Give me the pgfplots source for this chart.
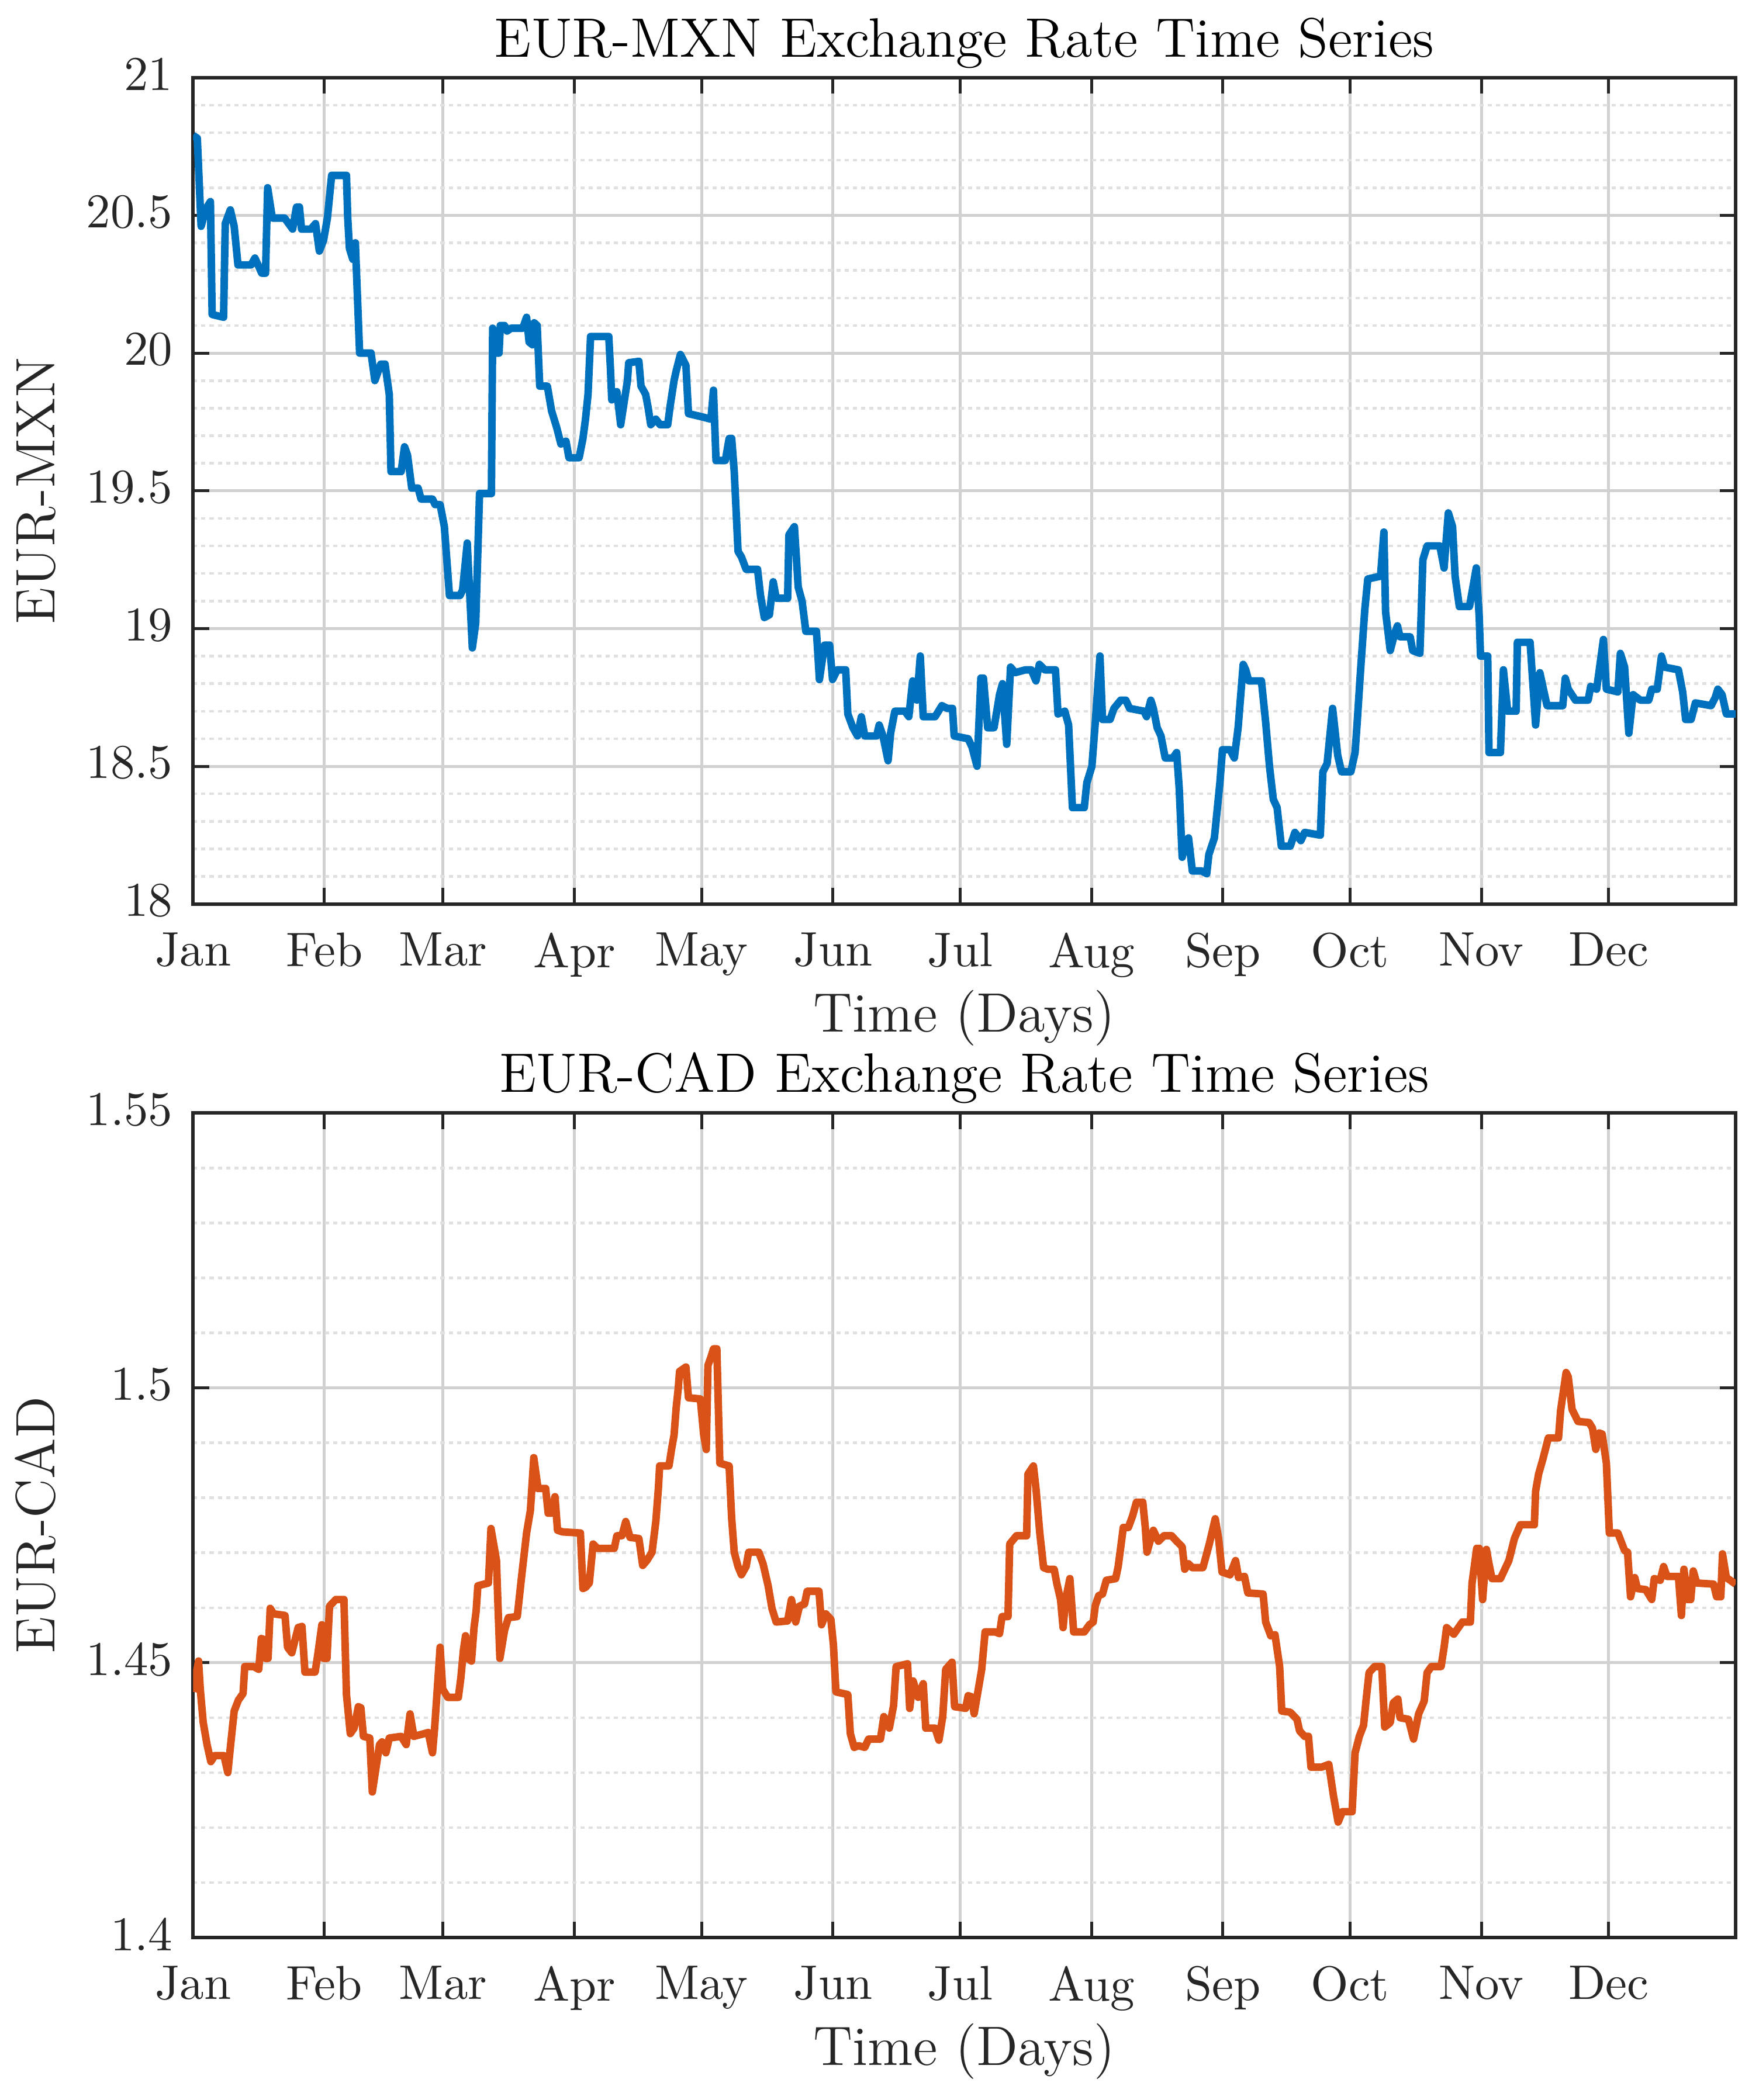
\documentclass[border=0pt]{standalone}
\usepackage{pgfplots}
\pgfplotsset{compat=1.18}
\definecolor{mblue}{RGB}{0,114,189}
\definecolor{morange}{RGB}{217,83,25}
\definecolor{axgray}{RGB}{38,38,38}
\pgfplotsset{
 every axis title shift=0pt,
 mystyle/.style={
  scale only axis, width=318pt,
  xmin=1, xmax=365, enlargelimits=false,
  xtick={1,32,60,91,121,152,182,213,244,274,305,335},
  xticklabels={Jan,Feb,Mar,Apr,May,Jun,Jul,Aug,Sep,Oct,Nov,Dec},
  tick align=inside, tick pos=both,
  major tick length=3.3pt, minor tick length=0pt,
  xmajorgrids, ymajorgrids, yminorgrids,
  major grid style={color=black!18, line width=0.6pt},
  minor grid style={color=black!12, line width=0.55pt, dash pattern=on 0.85pt off 0.85pt},
  axis line style={color=axgray, line width=0.7pt},
  tick style={color=axgray, line width=0.6pt},
  tick label style={font=\fontsize{10}{12}\selectfont, text=axgray},
  xticklabel style={yshift=-2.4pt},
  yticklabel style={xshift=-0.7pt, yshift=0.7pt},
  title style={at={(axis description cs:0.5,1.0252)}, anchor=base, font=\fontsize{11.45}{13.5}\selectfont},
  xlabel style={at={(axis description cs:0.5,-0.1547)}, anchor=base, font=\fontsize{11.45}{13.5}\selectfont, text=axgray},
  ylabel style={at={(axis description cs:-0.0896,0.5)}, anchor=base, rotate=0, font=\fontsize{11.45}{13.5}\selectfont, text=axgray},
  xlabel={Time (Days)},
 }
}
\begin{document}
\begin{tikzpicture}
\begin{axis}[mystyle, at={(0pt,0pt)}, anchor=north west, height=170.4pt,
  ymin=18, ymax=21, ytick={18,18.5,19,19.5,20,20.5,21},
  yticklabels={18,18.5,19,19.5,20,20.5,21}, minor y tick num=4,
  title={EUR-MXN Exchange Rate Time Series}, ylabel={EUR-MXN}]
\addplot[color=mblue, line width=1.55pt, line join=round] coordinates {
(1,20.79) (2,20.78) (2.9,20.46) (3.6,20.50) (4.3,20.53) (5.1,20.55) (5.5,20.14) (8.2,20.13)
(8.6,20.47) (9.8,20.52) (10.7,20.46) (11.6,20.32) (14.7,20.32) (15.6,20.345) (17.2,20.29) (18.1,20.29)
(18.6,20.60) (19.7,20.49) (22.6,20.49) (24.5,20.45) (25.4,20.53) (26.1,20.53) (26.6,20.45) (28.8,20.45)
(29.9,20.47) (30.8,20.37) (31.8,20.41) (32.7,20.49) (33.7,20.645) (37.2,20.645) (37.5,20.49) (37.9,20.38)
(38.7,20.34) (39.3,20.40) (40.3,20.00) (43,20.00) (43.9,19.90) (45.3,19.96) (46.3,19.96) (47.3,19.85)
(47.7,19.57) (50.1,19.57) (50.9,19.66) (51.6,19.63) (52.6,19.51) (54.1,19.51) (54.8,19.47) (57.5,19.47)
(58.1,19.45) (59.3,19.45) (60.3,19.37) (61.5,19.12) (64,19.12) (64.6,19.14) (65.7,19.31) (66.3,19.12)
(66.9,18.93) (67.7,19.02) (68.6,19.49) (71.4,19.49) (71.7,20.09) (72.3,20.00) (73.2,20.00) (73.5,20.10)
(74.5,20.10) (75.1,20.08) (76,20.09) (78.8,20.09) (79.7,20.13) (80.3,20.04) (81.1,20.03) (81.5,20.11)
(82.2,20.10) (82.8,19.88) (84.6,19.88) (85.6,19.79) (86.8,19.73) (87.8,19.67) (89,19.68) (89.7,19.62)
(92.1,19.62) (93,19.69) (93.6,19.76) (94.2,19.85) (94.8,20.06) (99.1,20.06) (99.5,19.94) (99.8,19.83)
(101,19.86) (101.9,19.74) (102.8,19.83) (103.5,19.90) (103.8,19.965) (106.2,19.97) (106.7,19.88) (107.8,19.85)
(108.4,19.80) (109,19.74) (110.2,19.76) (111.2,19.74) (113,19.74) (113.6,19.81) (114.5,19.90) (115,19.935)
(116,19.995) (117.3,19.955) (117.9,19.78) (120.7,19.77) (123.2,19.76) (123.8,19.865) (124.4,19.61) (126.6,19.61)
(127.5,19.69) (128.1,19.69) (128.7,19.57) (129.6,19.28) (130.4,19.26) (131.5,19.215) (134.2,19.215) (134.9,19.12)
(135.8,19.04) (137,19.05) (137.9,19.17) (138.6,19.11) (141.3,19.11) (141.6,19.34) (142.9,19.37) (143.8,19.15)
(144.7,19.10) (145.6,18.99) (148.1,18.99) (148.8,18.815) (150,18.94) (151.2,18.94) (151.9,18.815) (153,18.85)
(155,18.85) (155.5,18.69) (156.7,18.64) (157.8,18.61) (158.7,18.68) (159.5,18.61) (162.3,18.61) (162.9,18.65)
(163.8,18.61) (165,18.52) (165.6,18.62) (166.6,18.70) (169,18.70) (169.9,18.68) (170.8,18.81) (171.8,18.74)
(172.6,18.90) (173.3,18.68) (176.1,18.68) (177.7,18.72) (179,18.71) (180.2,18.71) (180.6,18.61) (183.9,18.60)
(184.8,18.57) (186,18.50) (186.9,18.82) (187.5,18.82) (188.5,18.64) (190,18.64) (191.3,18.76) (192,18.80)
(193,18.58) (193.9,18.86) (195,18.84) (197.4,18.85) (198.8,18.85) (199.9,18.81) (200.7,18.87) (202,18.85)
(204.5,18.85) (205.1,18.69) (206.7,18.70) (207.6,18.65) (208.5,18.35) (211.3,18.35) (211.9,18.44) (213.1,18.50)
(213.9,18.66) (215,18.90) (215.6,18.67) (217.4,18.67) (218.3,18.71) (219.9,18.74) (221.1,18.74) (222,18.71)
(225.4,18.70) (226,18.68) (227,18.74) (227.6,18.71) (228.5,18.64) (229.4,18.61) (230.4,18.53) (232.2,18.53)
(233.1,18.55) (233.7,18.42) (234.4,18.17) (235.3,18.23) (235.9,18.24) (236.8,18.12) (239,18.12) (240.2,18.11)
(240.7,18.18) (242,18.24) (243.3,18.44) (243.9,18.56) (245.7,18.56) (246.7,18.53) (247.6,18.64) (248.8,18.87)
(249.4,18.85) (250.1,18.81) (253.1,18.81) (254.1,18.66) (255,18.50) (255.9,18.38) (256.8,18.35) (257.8,18.21)
(259.9,18.21) (261,18.26) (262.4,18.23) (263.3,18.26) (267,18.25) (267.6,18.48) (268.6,18.51) (269.9,18.71)
(271.1,18.54) (272,18.48) (274.2,18.48) (275.2,18.55) (275.7,18.66) (276.5,18.85) (277.5,19.07) (278.2,19.18)
(281.2,19.19) (282,19.35) (282.4,19.06) (283.5,18.92) (284.5,18.98) (285.2,19.01) (285.8,18.97) (288.2,18.97)
(288.8,18.92) (290.5,18.91) (291.2,19.25) (292.2,19.30) (295.2,19.30) (296.2,19.22) (297.2,19.42) (298.2,19.37)
(298.8,19.19) (299.8,19.08) (302.2,19.08) (303.8,19.22) (304.5,19.04) (304.8,18.90) (306.5,18.90) (306.8,18.55)
(309.5,18.55) (310.2,18.85) (311.2,18.70) (313.2,18.70) (313.5,18.95) (316.5,18.95) (317.8,18.65) (318.8,18.84)
(319.5,18.79) (320.5,18.72) (324.2,18.72) (324.8,18.82) (325.5,18.78) (327.2,18.74) (330.2,18.74) (330.8,18.79)
(332.2,18.78) (333.8,18.96) (334.5,18.78) (337.2,18.77) (337.8,18.91) (338.8,18.86) (339.8,18.62) (340.8,18.76)
(342.5,18.74) (344.5,18.74) (345.2,18.78) (346.5,18.78) (347.5,18.90) (348.2,18.86) (351.5,18.85) (352.5,18.77)
(353.2,18.67) (354.5,18.67) (355.5,18.73) (359.2,18.72) (360.2,18.75) (360.8,18.78) (361.8,18.76) (362.8,18.69)
(365,18.69)
};
\end{axis}
\begin{axis}[mystyle, at={(0pt,-213.5pt)}, anchor=north west, height=170pt,
  ymin=1.4, ymax=1.55, ytick={1.4,1.45,1.5,1.55},
  yticklabels={1.4,1.45,1.5,1.55}, minor y tick num=4,
  title={EUR-CAD Exchange Rate Time Series}, ylabel={EUR-CAD}]
\addplot[color=morange, line width=1.55pt, line join=round] coordinates {
(1,1.4447) (2.3,1.4503) (2.7,1.4452) (3.4,1.4391) (4.3,1.4351) (5.2,1.4320) (6.1,1.4331) (8.3,1.4331)
(9.2,1.4300) (9.8,1.4346) (10.7,1.4412) (11.7,1.4432) (12.8,1.4444) (13.2,1.4493) (15.3,1.4493) (16.5,1.4488)
(17.1,1.4544) (17.8,1.4542) (18.1,1.4508) (18.7,1.4508) (19.2,1.4599) (20,1.4589) (22.7,1.4586) (23.3,1.4528)
(24.3,1.4518) (25.8,1.4564) (26.7,1.4566) (27.4,1.4483) (29.8,1.4483) (30.4,1.4513) (31.4,1.4569) (31.8,1.4508)
(32.6,1.4508) (33.2,1.4603) (34.7,1.4615) (36.6,1.4615) (37.2,1.4442) (38.1,1.4371) (39,1.4381) (40,1.4420)
(40.6,1.4418) (41.2,1.4366) (42.7,1.4363) (43.3,1.4265) (45,1.4351) (45.6,1.4356) (46.5,1.4336) (47.3,1.4363)
(50.1,1.4366) (51.3,1.4351) (52.2,1.4407) (53.1,1.4366) (56.5,1.4373) (57.5,1.4336) (58,1.4381) (59.3,1.4528)
(59.9,1.4452) (61.1,1.4437) (63.6,1.4437) (64.2,1.4473) (64.8,1.4523) (65.3,1.4549) (65.8,1.4508) (66.7,1.4503)
(67.3,1.4564) (67.8,1.4594) (68.2,1.4640) (70.7,1.4645) (71.3,1.4744) (72.6,1.4686) (72.9,1.4615) (73.4,1.4508)
(74.5,1.4559) (75.4,1.4582) (77.5,1.4584) (78.5,1.4655) (79.7,1.4736) (80.6,1.4777) (81.4,1.4873) (82.4,1.4817)
(84.2,1.4817) (84.8,1.4772) (85.6,1.4772) (86.4,1.4802) (87,1.4741) (88.2,1.4738) (92.4,1.4736) (93,1.4635)
(93.6,1.4637) (94.5,1.4645) (95.4,1.4716) (96.4,1.4708) (100.4,1.4708) (101,1.4731) (102.2,1.4731) (103.1,1.4757)
(104.1,1.4728) (106.2,1.4726) (107.1,1.4677) (108.1,1.4686) (109.3,1.4701) (110.2,1.4757) (110.8,1.4817) (111.1,1.4858)
(113.3,1.4858) (113.9,1.4888) (114.5,1.4914) (115,1.4964) (115.5,1.5000) (115.8,1.5030) (117.3,1.5038) (117.9,1.4982)
(120.7,1.4980) (121.5,1.4914) (122.1,1.4888) (122.5,1.5041) (123.2,1.5056) (123.8,1.5071) (124.6,1.5071) (125.3,1.4863)
(127.5,1.4858) (128.1,1.4762) (128.7,1.4701) (129.6,1.4675) (130.4,1.4660) (131.5,1.4675) (132.1,1.4701) (134.5,1.4701)
(135.5,1.4680) (136.7,1.4640) (137.6,1.4599) (138.6,1.4574) (141.3,1.4576) (142.2,1.4615) (143.2,1.4574) (144.1,1.4603)
(145.3,1.4607) (145.9,1.4630) (148.7,1.4630) (149.3,1.4569) (150.3,1.4589) (151.5,1.4579) (152.1,1.4533) (152.7,1.4447)
(155.5,1.4442) (156.1,1.4371) (157,1.4346) (158,1.4349) (159.5,1.4346) (160.4,1.4361) (163.2,1.4361) (164,1.4402)
(165.3,1.4381) (166.3,1.4422) (166.9,1.4493) (169.6,1.4498) (170.1,1.4417) (170.9,1.4467) (172.1,1.4437) (173.3,1.4462)
(173.9,1.4381) (176.1,1.4381) (177,1.4359) (177.9,1.4402) (178.6,1.4488) (180.1,1.4501) (180.7,1.4420) (183.3,1.4417)
(183.9,1.4440) (184.7,1.4438) (185.3,1.4407) (186.3,1.4452) (187.1,1.4488) (187.9,1.4556) (190.3,1.4556) (191.3,1.4553)
(191.9,1.4584) (193.3,1.4584) (193.7,1.4716) (195.3,1.4731) (197.7,1.4731) (198,1.4843) (199.3,1.4858) (199.9,1.4817)
(200.8,1.4736) (201.7,1.4673) (202.7,1.4670) (204.2,1.4670) (204.8,1.4645) (205.7,1.4615) (206.3,1.4564) (206.9,1.4615)
(207.9,1.4653) (208.8,1.4556) (211.3,1.4556) (212.5,1.4569) (213.4,1.4574) (213.9,1.4604) (214.7,1.4622) (215.6,1.4625)
(216.5,1.4650) (218.7,1.4653) (219.3,1.4675) (220,1.4716) (220.5,1.4746) (221.7,1.4746) (222.7,1.4767) (223.6,1.4792)
(225.1,1.4792) (225.7,1.4746) (226.1,1.4701) (227,1.4726) (227.6,1.4741) (228.8,1.4721) (230.1,1.4731) (231.9,1.4731)
(233.1,1.4721) (234.4,1.4711) (235,1.4670) (235.9,1.4680) (236.8,1.4673) (239.3,1.4673) (240.8,1.4716) (242.2,1.4762)
(243,1.4726) (243.8,1.4665) (245.7,1.4660) (247,1.4686) (247.7,1.4655) (249.1,1.4657) (249.9,1.4627) (253.5,1.4625)
(254.1,1.4574) (255.3,1.4549) (256.3,1.4551) (257.4,1.4493) (257.9,1.4412) (259.9,1.4410) (261.5,1.4397) (262.1,1.4376)
(263.3,1.4366) (264.2,1.4366) (264.8,1.4310) (267.3,1.4310) (269,1.4315) (270.1,1.4258) (271.2,1.4210) (272.2,1.4229)
(274.5,1.4229) (275.2,1.4336) (276.2,1.4366) (277.2,1.4386) (277.8,1.4432) (278.5,1.4482) (279.8,1.4493) (281.5,1.4493)
(282.2,1.4383) (283.5,1.4391) (284.2,1.4427) (285.3,1.4434) (285.8,1.4400) (287.8,1.4397) (289,1.4361) (290.2,1.4407)
(291.5,1.4430) (292.2,1.4482) (293.2,1.4493) (295.5,1.4493) (296.2,1.4528) (296.8,1.4564) (298.5,1.4552) (300.5,1.4574)
(302.4,1.4574) (302.8,1.4645) (303.9,1.4708) (304.5,1.4708) (305.3,1.4615) (306.2,1.4706) (306.8,1.4680) (307.5,1.4653)
(309.5,1.4653) (311.5,1.4686) (312.8,1.4726) (314.2,1.4751) (317.5,1.4751) (317.8,1.4812) (318.5,1.4843) (319.5,1.4870)
(320.8,1.4909) (323.2,1.4909) (323.7,1.4959) (325,1.5028) (325.5,1.5020) (326.4,1.4961) (327.8,1.4939) (330.4,1.4937)
(331.2,1.4927) (332,1.4888) (332.8,1.4918) (333.5,1.4916) (334.5,1.4863) (335.2,1.4736) (337.2,1.4736) (338.8,1.4704)
(339.5,1.4701) (340.2,1.4620) (341.2,1.4655) (341.8,1.4635) (343.8,1.4633) (345.2,1.4615) (345.8,1.4653) (347.2,1.4650)
(348,1.4675) (348.8,1.4657) (351.5,1.4657) (352.2,1.4586) (352.8,1.4670) (353.7,1.4615) (354.4,1.4615) (355,1.4667)
(355.8,1.4645) (359.8,1.4643) (360.5,1.4620) (361.5,1.4620) (361.9,1.4698) (362.8,1.4655) (365,1.4643)
};
\end{axis}
\pgfresetboundingbox
\path[use as bounding box] (-39.8pt,16pt) rectangle (322.7pt,-417pt);
\end{tikzpicture}
\end{document}
